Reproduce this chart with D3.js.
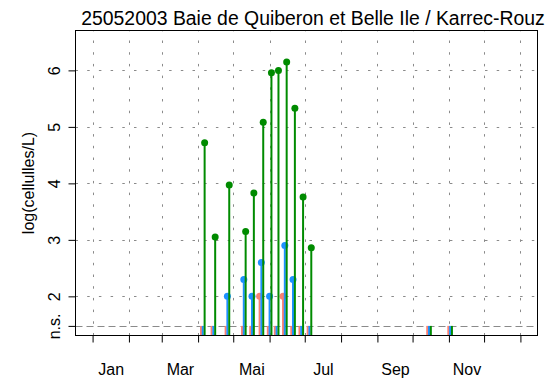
<!DOCTYPE html>
<html>
<head>
<meta charset="utf-8">
<script src="https://cdn.jsdelivr.net/npm/d3@7"></script>
<style>
  html, body { margin: 0; padding: 0; background: #fff; }
  svg { display: block; font-family: "Liberation Sans", Arial, sans-serif; }
</style>
</head>
<body>
<svg id="chart" width="551" height="382"></svg>
<script>
// Sampling dates and log-abundance per taxon group (null = below detection, "n.s.")
const sampleDates = ["2003-04-05", "2003-04-14", "2003-04-26", "2003-05-10", "2003-05-17",
  "2003-05-25", "2003-06-01", "2003-06-07", "2003-06-14", "2003-06-21",
  "2003-06-28", "2003-07-05", "2003-10-15", "2003-11-02"];
const pinkValues  = [null, null, null, null, null, 2.0, null, null, 2.0, null, null, null, null, null];
const blueValues  = [null, null, 2.0, 2.3, 2.0, 2.6, 2.0, null, 2.9, 2.3, null, null, null, null];
const greenValues = [4.72, 3.05, 3.97, 3.15, 3.83, 5.08, 5.96, 6.0, 6.15, 5.33, 3.76, 2.86, null, null];

const nsLevel = 1.477;             // detection threshold drawn as "n.s."
const yTickValues = [2, 3, 4, 5, 6];
const monthLabels = ["Jan", "Mar", "Mai", "Jul", "Sep", "Nov"];
const monthLabelIndex = [0, 2, 4, 6, 8, 10];
const titleText = "25052003 Baie de Quiberon et Belle Ile / Karrec-Rouz";
const yAxisTitle = "log(cellulles/L)";

(function draw() {
  const svg = d3.select("#chart");
  const pl = 75.5, pr = 537.5, pt = 30.5, pb = 335.5;

  const x = d3.scaleUtc()
    .domain([new Date(Date.UTC(2002, 11, 17, 10)), new Date(Date.UTC(2004, 0, 15, 14))])
    .range([pl, pr]);
  const y = d3.scaleLinear().domain([1.307, 6.706]).range([pb, pt]);

  const monthStarts = d3.utcMonth.range(new Date(Date.UTC(2003, 0, 1)), new Date(Date.UTC(2004, 0, 2)));

  // grid
  const grid = svg.append("g").attr("stroke", "#8a8a8a").attr("stroke-width", 1)
    .attr("stroke-dasharray", "2.5,9.2");
  grid.selectAll("line.v").data(monthStarts).join("line").attr("class", "v")
    .attr("x1", d => Math.round(x(d)) + 0.5).attr("x2", d => Math.round(x(d)) + 0.5)
    .attr("y1", pb).attr("y2", pt);
  grid.selectAll("line.h").data(yTickValues).join("line").attr("class", "h")
    .attr("y1", d => Math.round(y(d)) + 0.5).attr("y2", d => Math.round(y(d)) + 0.5)
    .attr("x1", pl).attr("x2", pr);

  // detection threshold
  svg.append("line")
    .attr("x1", pl).attr("x2", pr)
    .attr("y1", Math.round(y(nsLevel)) + 0.5).attr("y2", Math.round(y(nsLevel)) + 0.5)
    .attr("stroke", "#8a8a8a").attr("stroke-dasharray", "7,4");

  // stems + dots for each series
  const series = [
    { values: pinkValues,  color: "#FA8072", shift: -1.5 },
    { values: blueValues,  color: "#1E90FF", shift: 0 },
    { values: greenValues, color: "#008B00", shift: 1.6 }
  ];
  const parse = d3.utcParse("%Y-%m-%d");
  series.forEach(s => {
    const pts = sampleDates.map((d, i) => ({
      date: d3.utcHour.offset(parse(d), Math.round(s.shift * 24)),
      v: s.values[i]
    }));
    const g = svg.append("g");
    g.selectAll("line").data(pts).join("line")
      .attr("x1", d => x(d.date)).attr("x2", d => x(d.date))
      .attr("y1", pb)
      .attr("y2", d => y(d.v == null ? nsLevel : d.v))
      .attr("stroke", s.color).attr("stroke-width", 2);
    g.selectAll("circle").data(pts.filter(d => d.v != null)).join("circle")
      .attr("cx", d => x(d.date)).attr("cy", d => y(d.v)).attr("r", 3.5)
      .attr("fill", s.color);
  });

  // frame
  svg.append("rect").attr("x", pl).attr("y", pt)
    .attr("width", pr - pl).attr("height", pb - pt)
    .attr("fill", "none").attr("stroke", "#000");

  // x axis: ticks at month starts, labels mid-month
  const xAxis = svg.append("g").attr("transform", `translate(0,${pb})`)
    .call(d3.axisBottom(x).tickValues(monthStarts).tickSize(7).tickFormat(""));
  xAxis.select(".domain").remove();
  xAxis.selectAll(".tick line").attr("stroke", "#000");
  const labelDates = monthLabelIndex.map(m => {
    const a = Date.UTC(2003, m, 1), b = Date.UTC(2003, m + 1, 1);
    return new Date((a + b) / 2);
  });
  const xLab = svg.append("g").attr("transform", `translate(0,${pb})`)
    .call(d3.axisBottom(x).tickValues(labelDates).tickSize(0)
      .tickFormat((d, i) => monthLabels[i]));
  xLab.select(".domain").remove();
  xLab.selectAll("text").attr("y", 39.5).attr("dy", 0)
    .attr("font-size", 16).attr("font-family", "Liberation Sans, Arial, sans-serif").attr("fill", "#000");

  // y axis
  const yAxis = svg.append("g").attr("transform", `translate(${pl},0)`)
    .call(d3.axisLeft(y).tickValues([nsLevel].concat(yTickValues)).tickSize(7)
      .tickFormat(d => d === nsLevel ? "n.s." : d3.format("d")(d)));
  yAxis.select(".domain").remove();
  yAxis.selectAll(".tick line").attr("stroke", "#000");
  yAxis.selectAll(".tick text")
    .attr("transform", "rotate(-90)").attr("x", 0).attr("y", -15.5).attr("dy", 0)
    .attr("text-anchor", "middle").attr("font-size", 16)
    .attr("font-family", "Liberation Sans, Arial, sans-serif").attr("fill", "#000");

  // titles
  svg.append("text").attr("x", 313).attr("y", 25)
    .attr("text-anchor", "middle").attr("font-size", 19.4).text(titleText);
  svg.append("text").attr("transform", `translate(34,${(pt + pb) / 2}) rotate(-90)`)
    .attr("text-anchor", "middle").attr("font-size", 16).text(yAxisTitle);
})();
</script>
</body>
</html>
